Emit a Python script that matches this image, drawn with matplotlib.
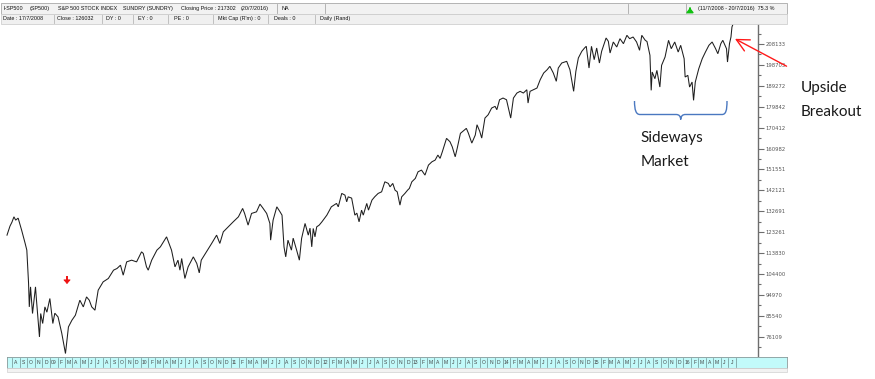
import matplotlib
matplotlib.use('Agg')
import matplotlib.pyplot as plt
import matplotlib.dates as mdates
import pandas as pd
from matplotlib.patches import Rectangle, PathPatch
from matplotlib.path import Path

# ---------------- data (S&P 500 index x100) ----------------
dates = [
 "2008-07-11","2008-07-23","2008-07-31","2008-08-08","2008-08-15","2008-08-25","2008-09-08","2008-09-22",
 "2008-09-29","2008-10-06","2008-10-09","2008-10-14","2008-10-22","2008-11-03","2008-11-07","2008-11-19",
 "2008-11-24","2008-12-02","2008-12-11","2008-12-19","2008-12-31","2009-01-12","2009-01-20","2009-02-02",
 "2009-02-17","2009-03-04","2009-03-16","2009-03-30","2009-04-13","2009-05-01","2009-05-15","2009-05-28",
 "2009-06-08","2009-06-18","2009-07-01","2009-07-14","2009-08-03","2009-08-24","2009-09-14","2009-09-28",
 "2009-10-12","2009-10-23","2009-11-06","2009-11-26","2009-12-16","2010-01-05","2010-01-12","2010-01-25",
 "2010-02-01","2010-02-15","2010-03-08","2010-03-22","2010-04-16","2010-05-06","2010-05-20","2010-06-01",
 "2010-06-09","2010-06-16","2010-06-29","2010-07-12","2010-08-02","2010-08-16","2010-08-26","2010-09-03",
 "2010-09-24","2010-10-15","2010-11-04","2010-11-17","2010-12-01","2010-12-21","2011-01-10","2011-01-31",
 "2011-02-17","2011-02-25","2011-03-11","2011-03-25","2011-04-14","2011-04-28","2011-05-10","2011-05-25",
 "2011-06-07","2011-06-10","2011-06-20","2011-07-05","2011-07-18","2011-07-26","2011-08-03","2011-08-10",
 "2011-08-19","2011-09-02","2011-09-09","2011-09-23","2011-10-04","2011-10-13","2011-10-27","2011-11-09",
 "2011-11-16","2011-11-23","2011-11-29","2011-12-06","2011-12-13","2011-12-23","2012-01-03","2012-01-23",
 "2012-02-10","2012-03-02","2012-03-09","2012-03-23","2012-04-05","2012-04-12","2012-04-18","2012-05-02",
 "2012-05-15","2012-05-23","2012-06-01","2012-06-11","2012-06-18","2012-07-02","2012-07-09","2012-07-23",
 "2012-08-03","2012-08-17","2012-08-31","2012-09-13","2012-09-27","2012-10-04","2012-10-15","2012-10-24",
 "2012-11-02","2012-11-13","2012-11-20","2012-12-03","2012-12-14","2012-12-21","2012-12-31","2013-01-14",
 "2013-01-25","2013-02-08","2013-02-22","2013-03-08","2013-03-22","2013-04-04","2013-04-15","2013-04-24",
 "2013-05-03","2013-05-20","2013-06-03","2013-06-12","2013-06-24","2013-07-02","2013-07-15","2013-07-31",
 "2013-08-08","2013-08-16","2013-08-30","2013-09-13","2013-09-20","2013-10-01","2013-10-09","2013-10-22",
 "2013-11-04","2013-11-18","2013-12-02","2013-12-09","2013-12-20","2014-01-03","2014-01-17","2014-02-03",
 "2014-02-14","2014-02-28","2014-03-13","2014-03-26","2014-04-09","2014-04-14","2014-04-22","2014-05-06",
 "2014-05-20","2014-06-02","2014-06-16","2014-06-30","2014-07-11","2014-07-25","2014-08-06","2014-08-14",
 "2014-08-28","2014-09-17","2014-09-30","2014-10-15","2014-10-24","2014-11-03","2014-11-17","2014-11-28",
 "2014-12-05","2014-12-16","2014-12-26","2015-01-06","2015-01-16","2015-01-27","2015-02-05","2015-02-23",
 "2015-03-04","2015-03-11","2015-03-24","2015-04-07","2015-04-20","2015-05-04","2015-05-18","2015-05-29",
 "2015-06-12","2015-06-26","2015-07-08","2015-07-17","2015-07-31","2015-08-07","2015-08-19","2015-08-24",
 "2015-08-28","2015-09-08","2015-09-16","2015-09-28","2015-10-05","2015-10-19","2015-11-02","2015-11-13",
 "2015-11-27","2015-12-11","2015-12-21","2016-01-04","2016-01-08","2016-01-19","2016-01-26","2016-02-05",
 "2016-02-11","2016-02-18","2016-03-03","2016-03-17","2016-03-30","2016-04-13","2016-04-26","2016-05-10",
 "2016-05-19","2016-05-31","2016-06-08","2016-06-23","2016-06-27","2016-07-05","2016-07-11","2016-07-15",
 "2016-07-20",
]
values = [
 121920,125980,127780,130180,128690,129590,124170,118300,
 115150,100250, 89550, 98580, 86570, 98580, 92580, 76010,
  86570, 82060, 89550, 87160, 93340, 82060, 86710, 85040,
  77680, 68520, 80520, 83550, 85800, 92580, 89550, 94060,
  92580, 89550, 88060, 97090,100840,102370,106120,106880,
 108370,103860,109860,110630,109860,114380,113660,107610,
 106120,110630,115150,116630,121150,115150,107610,110630,
 106120,111400,102370,107610,112120,109140,104900,110630,
 114380,118170,121920,118170,123410,125660,127920,130180,
 133970,131710,126430,131710,132430,135910,134100,131710,
 127200,119660,128690,134690,132430,130940,116630,112120,
 119660,115150,120560,115150,110630,120430,127200,121920,
 125080,116630,124940,121150,125660,126430,127920,130940,
 134690,136230,134690,140740,139970,136950,139200,138620,
 130940,131850,127920,133200,130940,136230,133200,137720,
 139200,140740,141460,145980,145250,143720,145250,142230,
 141460,135460,139200,140740,142230,143000,145980,147510,
 150490,151260,149000,153510,155000,155770,158030,156540,
 159520,165570,164030,161770,157260,161050,167820,169310,
 170080,167960,163440,167060,171710,168730,165700,174730,
 176220,179240,180010,178480,182990,183760,182990,174730,
 183760,186010,186780,186010,187500,181500,186780,187500,
 188270,192020,195040,196530,198070,195040,191300,197300,
 199560,200320,196530,186780,195810,201810,204840,206330,
 207100,197300,207100,201050,206330,199560,204840,210840,
 209350,204070,209040,206780,210530,208270,212060,210530,
 211290,209040,205290,212060,209800,209260,203030,187230,
 195490,192470,196260,188720,198520,202270,209800,206010,
 209040,204520,207550,201500,193240,194000,188720,190980,
 182720,190980,196980,201500,204520,207550,209040,206010,
 203750,208270,209800,206010,200010,208270,211290,215810,
 217302,
]
ytick_values = [76109, 85540, 94970, 104400, 113830, 123261, 132691, 142121,
                151551, 160982, 170412, 179842, 189272, 198703, 208133]

header_row1 = [("I-SP500", 3), ("(SP500)", 30), ("S&P 500 STOCK INDEX", 58),
               ("SUNDRY (SUNDRY)", 123), ("Closing Price : 217302", 181),
               ("(20/7/2016)", 241), ("NA", 281)]
header_row2 = [("Date : 17/7/2008", 3), ("Close : 126032", 57), ("DY : 0", 106),
               ("EY : 0", 138), ("PE : 0", 174), ("Mkt Cap (R'm) : 0", 218),
               ("Deals : 0", 274), ("Daily (Rand)", 320)]
range_text = "(11/7/2008 - 20/7/2016)  75.3 %"

# ---------------- layout ----------------
W, H = 875, 379
fig = plt.figure(figsize=(W / 100, H / 100), dpi=100, facecolor='white')

dt = pd.to_datetime(dates)
d0 = mdates.date2num(dt[0])
d1 = mdates.date2num(dt[-1])
px0, px1 = 7.0, 733.2                      # pixel x of first / last date
scale = (d1 - d0) / (px1 - px0)            # days per pixel

# y mapping: top label at px 44, bottom label at px 336.7
k = (ytick_values[-1] - ytick_values[0]) / (336.7 - 44.0)
def val_at(py):
    return ytick_values[-1] - (py - 44.0) * k

ax_l, ax_r, ax_t, ax_b = 0, 758, 23, 357
ax = fig.add_axes([ax_l / W, 1 - ax_b / H, (ax_r - ax_l) / W, (ax_b - ax_t) / H])
ax.set_xlim(d0 - (px0 - ax_l) * scale, d0 + (ax_r - px0) * scale)
ax.set_ylim(val_at(ax_b), val_at(ax_t))
ax.plot(dt, values, color='#1e1e1e', lw=0.75, solid_joinstyle='miter')
for s in ['left', 'top', 'bottom']:
    ax.spines[s].set_visible(False)
ax.spines['right'].set_color('#6e6e6e')
ax.spines['right'].set_linewidth(1.0)
ax.set_xticks([])
ax.yaxis.tick_right()
ax.set_yticks(ytick_values)
ax.set_yticklabels([str(v) for v in ytick_values])
step = ytick_values[1] - ytick_values[0]
minor = [v - step / 2 for v in ytick_values] + [ytick_values[-1] + step / 2]
ax.set_yticks(minor, minor=True)
ax.tick_params(axis='y', which='major', direction='out', length=4, width=0.8,
               color='#6e6e6e', labelsize=3.8, labelcolor='#555555', pad=1.5)
ax.tick_params(axis='y', which='minor', direction='out', length=2.2, width=0.8,
               color='#6e6e6e')

# ---------------- month band ----------------
b_l, b_r, b_t, b_b = 7, 787, 357, 368
bax = fig.add_axes([b_l / W, 1 - b_b / H, (b_r - b_l) / W, (b_b - b_t) / H])
bax.set_xlim(d0 + (b_l - px0) * scale, d0 + (b_r - px0) * scale)
bax.set_ylim(0, 1)
bax.set_facecolor('#c2fafa')
bax.set_xticks([]); bax.set_yticks([])
for s in bax.spines.values():
    s.set_color('#8a9a9a'); s.set_linewidth(0.6)
months = pd.date_range('2008-08-01', '2016-08-01', freq='MS')
for i, m in enumerate(months):
    x = mdates.date2num(m)
    bax.plot([x, x], [0.1, 0.9], color='#6f8f8f', lw=0.5)
    if i < len(months) - 1:
        xc = x + 3.6 * scale
        lab = m.strftime('%y') if m.month == 1 else m.strftime('%b')[0]
        bax.text(xc, 0.5, lab, fontsize=3.6, ha='center', va='center',
                 color='#444444', family='Liberation Sans')

# ---------------- overlay (pixel coordinates, y down) ----------------
ov = fig.add_axes([0, 0, 1, 1])
ov.set_xlim(0, W); ov.set_ylim(H, 0); ov.axis('off'); ov.patch.set_alpha(0)

# scrollbar strip under band
ov.add_patch(Rectangle((7, 368), 780, 3.5, fc='#f2f2f2', ec='#d0d0d0', lw=0.5))

# header rows
ov.add_patch(Rectangle((1, 3), 786, 10.5, fc='#f2f2f2', ec='#a8a8a8', lw=0.6))
ov.add_patch(Rectangle((1, 13.5), 786, 10, fc='#f0f0f0', ec='#d0d0d0', lw=0.6))
for sx in [277, 325, 628, 686]:
    ov.plot([sx, sx], [4, 13], color='#a8a8a8', lw=0.6)
for sx in [54, 102, 133, 168, 213, 268, 315]:
    ov.plot([sx, sx], [14.5, 23], color='#b8b8b8', lw=0.6)
hfont = dict(fontsize=3.9, va='center', ha='left', color='#111111', family='Liberation Sans')
for t, x in header_row1:
    ov.text(x, 8.4, t, **hfont)
for t, x in header_row2:
    ov.text(x, 18.8, t, **hfont)
ov.text(698, 8.4, range_text, **hfont)
ov.annotate('', xy=(690, 5), xytext=(690, 11.5),
            arrowprops=dict(arrowstyle='-|>,head_length=0.25,head_width=0.2',
                            color='#10c010', lw=1.2))

# small red marker arrow
ov.plot([67, 67], [276, 281], color='#ee1111', lw=1.4, solid_capstyle='butt')
ov.annotate('', xy=(67, 284), xytext=(67, 279.5),
            arrowprops=dict(arrowstyle='-|>,head_length=0.25,head_width=0.22',
                            color='#ee1111', lw=0.6))

# breakout arrow
ov.annotate('', xy=(732.5, 37.5), xytext=(789, 67.5),
            arrowprops=dict(arrowstyle='->,head_length=0.9,head_width=0.45',
                            color='#ff1a1a', lw=1.0))

# brace
verts = [(634.5, 101), (634.5, 110), (636, 114.5), (640, 114.5),
         (676, 114.5),
         (679, 114.5), (680.5, 116), (680.7, 119.5),
         (681, 116), (682.5, 114.5), (685.5, 114.5),
         (722, 114.5),
         (726, 114.5), (727, 110), (727, 101)]
codes = [Path.MOVETO, Path.CURVE4, Path.CURVE4, Path.CURVE4,
         Path.LINETO,
         Path.CURVE4, Path.CURVE4, Path.CURVE4,
         Path.CURVE4, Path.CURVE4, Path.CURVE4,
         Path.LINETO,
         Path.CURVE4, Path.CURVE4, Path.CURVE4]
ov.add_patch(PathPatch(Path(verts, codes), fc='none', ec='#4a78c0', lw=1.0))

afont = dict(fontsize=11, va='center', ha='left', color='#1a1a1a', family='Lato')
ov.text(640, 138, 'Sideways', **afont)
ov.text(641, 162, 'Market', **afont)
ov.text(801, 88, 'Upside', **afont)
ov.text(801, 112, 'Breakout', **afont)

fig.savefig('out.png', dpi=100, facecolor='white')
